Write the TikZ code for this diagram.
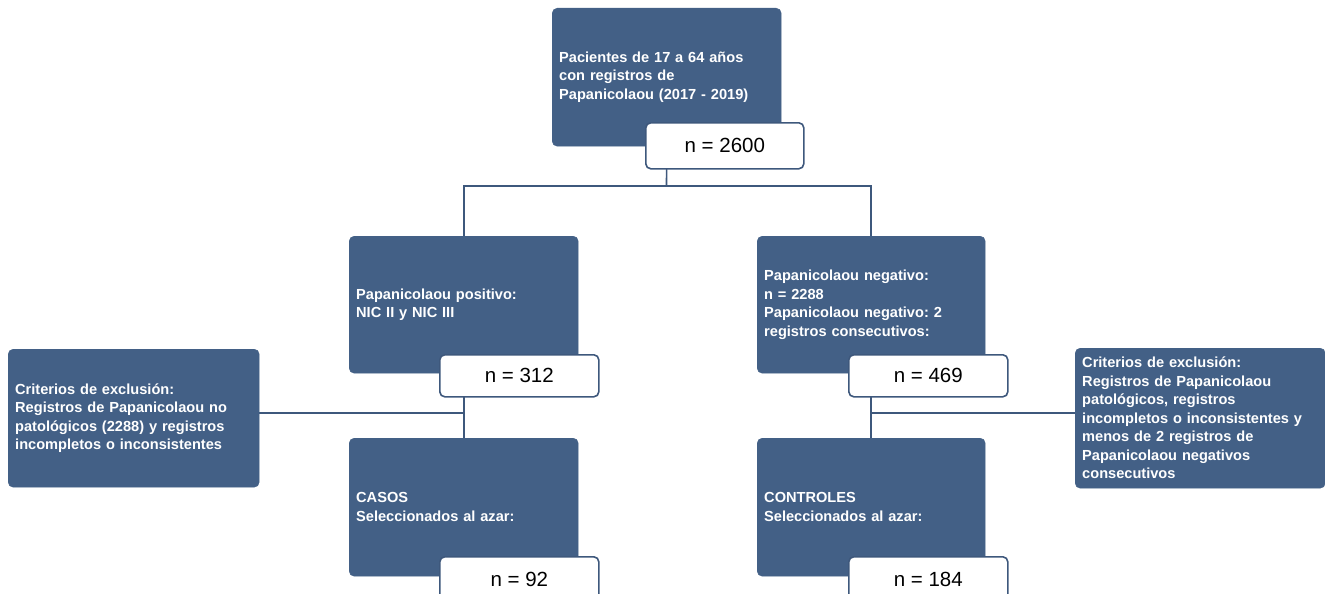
\documentclass[tikz,border=0pt]{standalone}
\usepackage{fontspec}
\setmainfont{Liberation Sans}
\frenchspacing
\pgfdeclarelayer{background}
\pgfsetlayers{background,main}
\definecolor{boxblue}{RGB}{67,96,134}
\definecolor{lineblue}{RGB}{62,88,124}
\tikzset{
  darkbox/.style={draw=boxblue, fill=boxblue, rounded corners=5pt, text=white,
    font=\bfseries\fontsize{14.6}{18.5}\selectfont, align=left, inner xsep=7pt,
    inner ysep=0pt, anchor=north west},
  nbox/.style={draw=lineblue, line width=1.6pt, fill=white, rounded corners=5pt,
    font=\fontsize{20.5}{22}\selectfont, anchor=north west, inner sep=0pt},
  conn/.style={draw=lineblue, line width=1.6pt}
}
\begin{document}
\begin{tikzpicture}[x=1pt,y=-1pt]
\useasboundingbox (0,0) rectangle (1325,594);
\clip (0,0) rectangle (1325,594);
% dark boxes
\node[darkbox, text width=215pt, minimum height=138pt] (top) at (552,8)
  {Pacientes de 17 a 64 años\\con registros de\\Papanicolaou (2017 - 2019)};
\node[darkbox, text width=215pt, minimum height=137pt] (pos) at (349,236)
  {Papanicolaou positivo:\\NIC II y NIC III};
\node[darkbox, text width=214pt, minimum height=137pt] (neg) at (757,236)
  {Papanicolaou negativo:\\n = 2288\\Papanicolaou negativo: 2\\registros consecutivos:};
\node[darkbox, text width=237pt, minimum height=138pt] (exL) at (8,349)
  {Criterios de exclusión:\\Registros de Papanicolaou no\\patológicos (2288) y registros\\incompletos o inconsistentes};
\node[darkbox, text width=236pt, minimum height=140pt] (exR) at (1075,348)
  {Criterios de exclusión:\\Registros de Papanicolaou\\patológicos, registros\\incompletos o inconsistentes y\\menos de 2 registros de\\Papanicolaou negativos\\consecutivos};
\node[darkbox, text width=215pt, minimum height=138pt] (casos) at (349,438)
  {CASOS\\Seleccionados al azar:};
\node[darkbox, text width=214pt, minimum height=138pt] (ctrl) at (757,438)
  {CONTROLES\\Seleccionados al azar:};
% count boxes
\node[nbox, minimum width=158pt, minimum height=46pt] (n2600) at (645,122) {n = 2600};
\node[nbox, minimum width=159pt, minimum height=42pt] (n312) at (439,354) {n = 312};
\node[nbox, minimum width=159pt, minimum height=42pt] (n469) at (848,354) {n = 469};
\node[nbox, minimum width=159pt, minimum height=46pt] (n92) at (439,556) {n = 92};
\node[nbox, minimum width=159pt, minimum height=46pt] (n184) at (848,556) {n = 184};
% connectors
\coordinate (j1) at (666.5,186);
\begin{pgfonlayer}{background}
\draw[conn] (top.south) -- (j1);
\draw[conn] (pos.north) |- (j1);
\draw[conn] (neg.north) |- (j1);
\draw[conn] (pos.south) -- (casos.north);
\draw[conn] (neg.south) -- (ctrl.north);
\draw[conn] ([yshift=5pt]exL.east) -- ([yshift=5pt]exL.east -| pos.south);
\draw[conn] ([yshift=5pt]exR.west) -- ([yshift=5pt]exR.west -| neg.south);
\end{pgfonlayer}
\end{tikzpicture}
\end{document}
